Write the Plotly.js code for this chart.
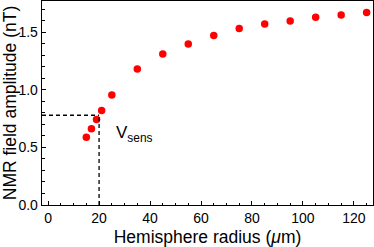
<!DOCTYPE html>
<html>
<head>
<meta charset="utf-8">
<script src="https://cdn.plot.ly/plotly-3.0.1.min.js"></script>
<style>html,body{margin:0;padding:0;background:#fff;}#chart{width:374px;height:247px;}</style>
</head>
<body>
<div id="chart"></div>
<script>
const radius = [15, 17, 19, 21, 25, 35, 45, 55, 65, 75, 85, 95, 105, 115, 125];
const amplitude = [0.588, 0.663, 0.744, 0.822, 0.957, 1.182, 1.312, 1.40, 1.473, 1.534, 1.574, 1.60, 1.632, 1.652, 1.672];
const vsensRadius = 20;
const vsensAmplitude = 0.78;
const vsensLabel = 'V<sub>sens</sub>';
const xTitle = 'Hemisphere radius (<i>μ</i>m)';
const yTitle = 'NMR field amplitude (nT)';

const font = 'Liberation Sans, Arial, sans-serif';

const data = [{
  type: 'scatter', mode: 'markers',
  x: radius, y: amplitude,
  marker: {color: '#ff0000', size: 7.5},
  hoverinfo: 'skip'
}];

const layout = {
  width: 374, height: 247,
  margin: {l: 42, r: 1, t: 1, b: 42},
  paper_bgcolor: '#fff', plot_bgcolor: '#fff',
  showlegend: false,
  font: {family: font, color: '#000', size: 14},
  xaxis: {
    range: [-2.4, 127.5], dtick: 20, tick0: 0,
    ticks: 'inside', ticklen: 4, tickwidth: 1, tickcolor: '#000',
    minor: {dtick: 5, ticks: 'inside', ticklen: 2.5, tickwidth: 1, tickcolor: '#000'},
    showline: true, linecolor: '#000', linewidth: 1.3, mirror: true,
    showgrid: false, zeroline: false,
    tickfont: {size: 14},
    title: {text: xTitle, font: {size: 17.5}, standoff: 6}
  },
  yaxis: {
    range: [0, 1.773], dtick: 0.5, tick0: 0, tickformat: '.1f',
    ticks: 'inside', ticklen: 4, tickwidth: 1, tickcolor: '#000',
    minor: {dtick: 0.1, ticks: 'inside', ticklen: 2.5, tickwidth: 1, tickcolor: '#000'},
    showline: true, linecolor: '#000', linewidth: 1.3, mirror: true,
    showgrid: false, zeroline: false,
    tickfont: {size: 14},
    title: {text: yTitle, font: {size: 17.5}, standoff: 4}
  },
  shapes: [
    {type: 'line', xref: 'x', yref: 'y', x0: -2.4, x1: vsensRadius, y0: vsensAmplitude, y1: vsensAmplitude,
     line: {color: '#000', width: 1.3, dash: '4px,3px'}},
    {type: 'line', xref: 'x', yref: 'y', x0: vsensRadius, x1: vsensRadius, y0: 0, y1: vsensAmplitude,
     line: {color: '#000', width: 1.3, dash: '4px,3px'}}
  ],
  annotations: [{
    x: 26, y: 0.62, xref: 'x', yref: 'y', xanchor: 'left', yanchor: 'middle',
    text: vsensLabel, showarrow: false, font: {size: 17, color: '#000'}
  }]
};
// horizontal dashed line starts at the left axis
layout.shapes[0].x0 = layout.xaxis.range[0];

Plotly.newPlot('chart', data, layout, {staticPlot: true, displayModeBar: false});
</script>
</body>
</html>
